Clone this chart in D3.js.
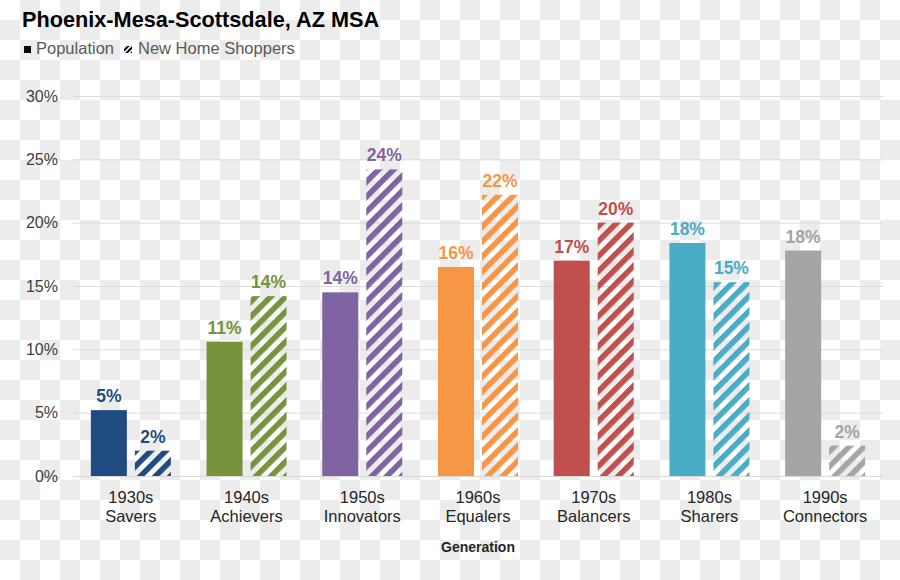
<!DOCTYPE html>
<html><head><meta charset="utf-8">
<script src="https://cdn.jsdelivr.net/npm/d3@7"></script>
<style>
html,body{margin:0;padding:0;background:#fff;}
svg{display:block;font-family:"Liberation Sans",Arial,sans-serif;}
</style></head>
<body>
<svg id="chart" width="900" height="580"></svg>
<script>
const years = ["1930s","1940s","1950s","1960s","1970s","1980s","1990s"];
const generations = ["Savers","Achievers","Innovators","Equalers","Balancers","Sharers","Connectors"];
const population = [5.2, 10.6, 14.5, 16.5, 17.0, 18.4, 17.8];
const shoppers = [2.0, 14.2, 24.2, 22.2, 20.0, 15.3, 2.4];
const popLabels = ["5%","11%","14%","16%","17%","18%","18%"];
const shopLabels = ["2%","14%","24%","22%","20%","15%","2%"];
const colors = ["#1f4b80","#77933c","#8064a2","#f79646","#c0504d","#4bacc6","#a5a5a5"];
const yTicks = [0,5,10,15,20,25,30];
const seriesNames = ["Population","New Home Shoppers"];

(function(){
const svg = d3.select("#chart");
const defs = svg.append("defs");

// checkerboard background
const cb = defs.append("pattern").attr("id","checker").attr("patternUnits","userSpaceOnUse")
  .attr("width",40).attr("height",40);
cb.append("rect").attr("width",40).attr("height",40).attr("fill","#ffffff");
cb.append("rect").attr("x",20).attr("y",0).attr("width",20).attr("height",20).attr("fill","#ececec");
cb.append("rect").attr("x",0).attr("y",20).attr("width",20).attr("height",20).attr("fill","#ececec");
svg.append("rect").attr("width",900).attr("height",580).attr("fill","url(#checker)");

// hatch patterns
colors.forEach((c,i)=>{
  const p = defs.append("pattern").attr("id","hatch"+i).attr("patternUnits","userSpaceOnUse")
    .attr("width",10.6).attr("height",10.6).attr("patternTransform","rotate(45)");
  p.append("rect").attr("x",0).attr("y",0).attr("width",5.6).attr("height",10.6).attr("fill",c);
});
const lp = defs.append("pattern").attr("id","hatchLegend").attr("patternUnits","userSpaceOnUse")
  .attr("width",3.6).attr("height",3.6).attr("patternTransform","rotate(45)");
lp.append("rect").attr("width",1.9).attr("height",3.6).attr("fill","#000");

const mLeft = 73, mRight = 883, mTop = 96, mBottom = 476;
const x = d3.scaleBand().domain(years).range([mLeft,mRight]).padding(0);
const inner = d3.scaleBand().domain(seriesNames)
  .range([x.bandwidth()/2-40, x.bandwidth()/2+40]).paddingInner(8/44).paddingOuter(0);
const y = d3.scaleLinear().domain([0,30]).range([mBottom,mTop]);

// grid
const grid = svg.append("g");
grid.selectAll("line").data(yTicks.filter(t=>t>0)).join("line")
  .attr("x1",mLeft).attr("x2",mRight)
  .attr("y1",d=>y(d)+0.5).attr("y2",d=>y(d)+0.5)
  .attr("stroke","#dcdcdc").attr("stroke-width",1);

// y axis labels
const yAxis = svg.append("g").attr("transform",`translate(${mLeft},0)`)
  .call(d3.axisLeft(y).tickValues(yTicks).tickFormat(d=>d+"%").tickSize(0).tickPadding(15));
yAxis.select(".domain").remove();
yAxis.selectAll("text").attr("font-size",16).attr("fill","#404040")
  .attr("font-family","'Liberation Sans',Arial,sans-serif");

// bars
const groups = svg.append("g").selectAll("g").data(years).join("g")
  .attr("transform",d=>`translate(${x(d)},0)`);

groups.append("rect")
  .attr("x",inner("Population")).attr("width",inner.bandwidth())
  .attr("y",(d,i)=>y(population[i])).attr("height",(d,i)=>y(0)-y(population[i]))
  .attr("fill",(d,i)=>colors[i]);
groups.append("rect")
  .attr("x",inner("New Home Shoppers")).attr("width",inner.bandwidth())
  .attr("y",(d,i)=>y(shoppers[i])).attr("height",(d,i)=>y(0)-y(shoppers[i]))
  .attr("fill",(d,i)=>`url(#hatch${i})`);

// value labels
groups.append("text")
  .attr("x",inner("Population")+inner.bandwidth()/2)
  .attr("y",(d,i)=>y(population[i])-8)
  .attr("text-anchor","middle").attr("font-size",17.5).attr("font-weight","bold")
  .attr("fill",(d,i)=>colors[i]).text((d,i)=>popLabels[i]);
groups.append("text")
  .attr("x",inner("New Home Shoppers")+inner.bandwidth()/2)
  .attr("y",(d,i)=>y(shoppers[i])-8)
  .attr("text-anchor","middle").attr("font-size",17.5).attr("font-weight","bold")
  .attr("fill",(d,i)=>colors[i]).text((d,i)=>shopLabels[i]);

// baseline
svg.append("line").attr("x1",mLeft).attr("x2",mRight).attr("y1",mBottom+0.5).attr("y2",mBottom+0.5)
  .attr("stroke","#d9d9d9").attr("stroke-width",1);

// category labels
const cat = groups.append("text").attr("text-anchor","middle").attr("font-size",16.5).attr("fill","#262626");
cat.append("tspan").attr("x",x.bandwidth()/2).attr("y",503).text(d=>d);
cat.append("tspan").attr("x",x.bandwidth()/2).attr("y",522).text((d,i)=>generations[i]);

// axis title
svg.append("text").attr("x",(mLeft+mRight)/2).attr("y",552).attr("text-anchor","middle")
  .attr("font-size",14).attr("font-weight","bold").attr("fill","#262626").text("Generation");

// title
svg.append("text").attr("x",22).attr("y",27).attr("font-size",21.7).attr("font-weight","bold")
  .attr("fill","#000").text("Phoenix-Mesa-Scottsdale, AZ MSA");

// legend
svg.append("rect").attr("x",24).attr("y",46).attr("width",7).attr("height",7).attr("fill","#000");
svg.append("text").attr("x",36).attr("y",54).attr("font-size",16.5).attr("fill","#595959").text(seriesNames[0]);
svg.append("rect").attr("x",124).attr("y",46).attr("width",8).attr("height",7).attr("fill","url(#hatchLegend)");
svg.append("text").attr("x",138).attr("y",54).attr("font-size",16.5).attr("fill","#595959").text(seriesNames[1]);
})();
</script>
</body></html>
